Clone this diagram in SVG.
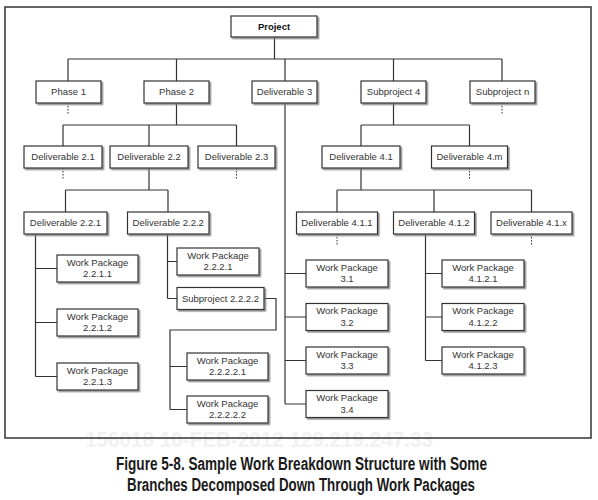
<svg xmlns="http://www.w3.org/2000/svg" width="598" height="500" viewBox="0 0 598 500">
<defs>
<filter id="ds" x="-10%" y="-20%" width="130%" height="160%">
<feDropShadow dx="1.6" dy="1.6" stdDeviation="0.7" flood-color="#777" flood-opacity="0.8"/>
</filter>
<style>
.box{fill:#fff;stroke:#333;stroke-width:1.2;filter:url(#ds)}
.t{font-family:"Liberation Sans",Arial,sans-serif;font-size:9.5px;fill:#333;text-anchor:middle}
.b{font-weight:bold;fill:#111}
.ln{fill:none;stroke:#333;stroke-width:1.2}
.dot{fill:none;stroke:#333;stroke-width:1;stroke-dasharray:1.5 1.5}
.cap{font-family:"Liberation Sans Narrow","Liberation Sans",Arial,sans-serif;font-weight:bold;font-size:17.5px;fill:#1a1a1a;text-anchor:middle}
.wm{font-family:"Liberation Sans",Arial,sans-serif;font-weight:bold;font-size:22px;fill:#f1f1f1;text-anchor:middle}
</style>
</defs>
<rect width="598" height="500" fill="#fff"/>
<text class="wm" x="259" y="447" textLength="348" lengthAdjust="spacingAndGlyphs">156018 10-FEB-2012 129.219.247.33</text>
<rect x="5" y="7" width="586" height="431" fill="none" stroke="#333" stroke-width="1.5"/>

<g id="connectors">
<path class="ln" d="M274.5 37V59M68 59H502M68 59V81M176.5 59V81M285 59V81M393.5 59V81M502 59V81"/>
<path class="ln" d="M176.5 103V125M63 125H236.5M63 125V146M149 125V146M236.5 125V146"/>
<path class="ln" d="M393.5 103V125M361 125H469.5M361 125V146M469.5 125V146"/>
<path class="ln" d="M149 168V190M65.5 190H168M65.5 190V212M168 190V212"/>
<path class="ln" d="M361 168V190M337 190H531.5M337 190V212M434 190V212M531.5 190V212"/>
<path class="ln" d="M35.5 234V376.5M35.5 268.5H57M35.5 322.5H57M35.5 376.5H57"/>
<path class="ln" d="M167.5 234V298.5M167.5 261.5H177M167.5 298.5H177"/>
<path class="ln" d="M264 298.5H276V330H170V409.5M170 366.5H187M170 409.5H187"/>
<path class="ln" d="M285 103V404M285 273.5H306M285 317H306M285 360.5H306M285 404H306"/>
<path class="ln" d="M425.5 234V360.5M425.5 273.5H442M425.5 317H442M425.5 360.5H442"/>
<path class="dot" d="M68 103V115M502 103V115M63 168V180M236.5 168V180M469.5 168V180M337 234V246M531.5 234V246"/>
</g>

<g id="project"><rect class="box" x="231" y="16" width="86" height="21"/><text class="t b" x="274" y="29.9">Project</text></g>

<g id="phase1"><rect class="box" x="36" y="81" width="65" height="22"/><text class="t" x="68.5" y="95.4">Phase 1</text></g>
<g id="phase2"><rect class="box" x="144" y="81" width="65" height="22"/><text class="t" x="176.5" y="95.4">Phase 2</text></g>
<g id="deliverable3"><rect class="box" x="252" y="81" width="65" height="22"/><text class="t" x="284.5" y="95.4">Deliverable 3</text></g>
<g id="subproject4"><rect class="box" x="361" y="81" width="65" height="22"/><text class="t" x="393.5" y="95.4">Subproject 4</text></g>
<g id="subprojectn"><rect class="box" x="470" y="81" width="65" height="22"/><text class="t" x="502.5" y="95.4">Subproject n</text></g>

<g id="d21"><rect class="box" x="24" y="146" width="78" height="22"/><text class="t" x="63" y="160.4">Deliverable 2.1</text></g>
<g id="d22"><rect class="box" x="110" y="146" width="78" height="22"/><text class="t" x="149" y="160.4">Deliverable 2.2</text></g>
<g id="d23"><rect class="box" x="198" y="146" width="77" height="22"/><text class="t" x="236.5" y="160.4">Deliverable 2.3</text></g>
<g id="d41"><rect class="box" x="322" y="146" width="78" height="22"/><text class="t" x="361" y="160.4">Deliverable 4.1</text></g>
<g id="d4m"><rect class="box" x="431.5" y="146" width="76" height="22"/><text class="t" x="469.5" y="160.4">Deliverable 4.m</text></g>

<g id="d221"><rect class="box" x="24" y="212" width="83" height="22"/><text class="t" x="65.5" y="226.4">Deliverable 2.2.1</text></g>
<g id="d222"><rect class="box" x="127.5" y="212" width="81.5" height="22"/><text class="t" x="168.2" y="226.4">Deliverable 2.2.2</text></g>
<g id="d411"><rect class="box" x="296.5" y="212" width="81" height="22"/><text class="t" x="337" y="226.4">Deliverable 4.1.1</text></g>
<g id="d412"><rect class="box" x="393.5" y="212" width="81" height="22"/><text class="t" x="434" y="226.4">Deliverable 4.1.2</text></g>
<g id="d41x"><rect class="box" x="491" y="212" width="81" height="22"/><text class="t" x="531.5" y="226.4">Deliverable 4.1.x</text></g>

<g id="wp2211"><rect class="box" x="57" y="255" width="81" height="27"/><text class="t" x="97.5" y="265.5">Work Package</text><text class="t" x="97.5" y="277">2.2.1.1</text></g>
<g id="wp2212"><rect class="box" x="57" y="309" width="81" height="27"/><text class="t" x="97.5" y="319.5">Work Package</text><text class="t" x="97.5" y="331">2.2.1.2</text></g>
<g id="wp2213"><rect class="box" x="57" y="363" width="81" height="27"/><text class="t" x="97.5" y="373.5">Work Package</text><text class="t" x="97.5" y="385">2.2.1.3</text></g>

<g id="wp2221"><rect class="box" x="177" y="248" width="82" height="27"/><text class="t" x="218" y="258.5">Work Package</text><text class="t" x="218" y="270">2.2.2.1</text></g>
<g id="sp2222"><rect class="box" x="177" y="287.5" width="87" height="22"/><text class="t" x="220.5" y="301.9">Subproject 2.2.2.2</text></g>
<g id="wp22221"><rect class="box" x="187" y="353" width="81" height="27"/><text class="t" x="227.5" y="363.5">Work Package</text><text class="t" x="227.5" y="375">2.2.2.2.1</text></g>
<g id="wp22222"><rect class="box" x="187" y="396" width="81" height="27"/><text class="t" x="227.5" y="406.5">Work Package</text><text class="t" x="227.5" y="418">2.2.2.2.2</text></g>

<g id="wp31"><rect class="box" x="306" y="260" width="82" height="27"/><text class="t" x="347" y="270.5">Work Package</text><text class="t" x="347" y="282">3.1</text></g>
<g id="wp32"><rect class="box" x="306" y="303.5" width="82" height="27"/><text class="t" x="347" y="314">Work Package</text><text class="t" x="347" y="325.5">3.2</text></g>
<g id="wp33"><rect class="box" x="306" y="347" width="82" height="27"/><text class="t" x="347" y="357.5">Work Package</text><text class="t" x="347" y="369">3.3</text></g>
<g id="wp34"><rect class="box" x="306" y="390.5" width="82" height="27"/><text class="t" x="347" y="401">Work Package</text><text class="t" x="347" y="412.5">3.4</text></g>

<g id="wp4121"><rect class="box" x="442" y="260" width="82" height="27"/><text class="t" x="483" y="270.5">Work Package</text><text class="t" x="483" y="282">4.1.2.1</text></g>
<g id="wp4122"><rect class="box" x="442" y="303.5" width="82" height="27"/><text class="t" x="483" y="314">Work Package</text><text class="t" x="483" y="325.5">4.1.2.2</text></g>
<g id="wp4123"><rect class="box" x="442" y="347" width="82" height="27"/><text class="t" x="483" y="357.5">Work Package</text><text class="t" x="483" y="369">4.1.2.3</text></g>

<text class="cap" x="301.5" y="470" textLength="371" lengthAdjust="spacingAndGlyphs">Figure 5-8. Sample Work Breakdown Structure with Some</text>
<text class="cap" x="301" y="491" textLength="348" lengthAdjust="spacingAndGlyphs">Branches Decomposed Down Through Work Packages</text>
</svg>
